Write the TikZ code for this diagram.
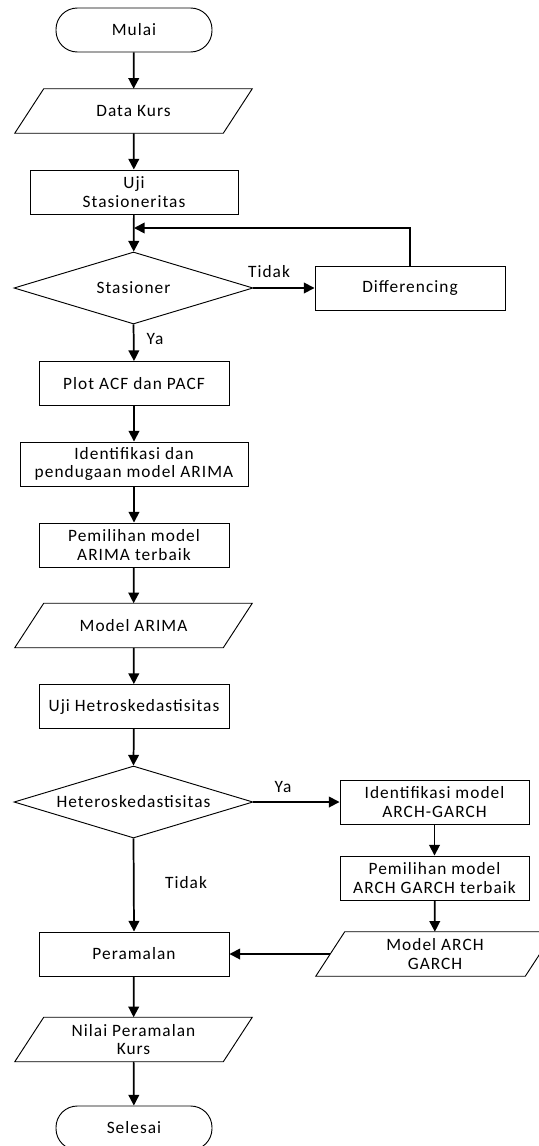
\documentclass[tikz,border=0pt]{standalone}
\usepackage{fontspec}
\setmainfont{Carlito}[LetterSpace=6.0]
\usetikzlibrary{arrows.meta,shapes.geometric}
\tikzset{
  boxline/.style={draw=black, line width=0.7pt},
  base/.style={font=\fontsize{13}{13.75}\selectfont, align=center, inner sep=0pt},
  proc/.style={base, boxline, rectangle, minimum height=33pt},
  term/.style={base, boxline, rectangle, rounded corners=16pt, minimum width=117pt, minimum height=33pt},
  io/.style={base, rectangle, minimum height=33pt},
  dec/.style={base, boxline, diamond, aspect=3.3, minimum width=179.25pt, minimum height=54pt},
  lbl/.style={font=\fontsize{13}{13.75}\selectfont, inner sep=0pt},
  arr/.style={line width=1.3pt, -{Triangle[length=8pt,width=8pt]}},
}
\begin{document}
\begin{tikzpicture}[x=0.75pt,y=-0.75pt]
\useasboundingbox (0,0) rectangle (539,1146);
\clip (0,0) rectangle (539,1146);
% main column
\node[term] (mulai) at (134,30) {Mulai};
\node[io, minimum width=156pt] (data) at (133.5,111) {Data Kurs};
\node[proc, minimum width=156pt] (ujis) at (134,192) {Uji\\Stasioneritas};
\node[dec] (stas) at (133.5,288) {Stasioner};
\node[proc, minimum width=142.5pt] (diff) at (410,288) {Differencing};
\node[proc, minimum width=142.5pt] (plot) at (134,383.5) {Plot ACF dan PACF};
\node[proc, minimum width=171pt] (iden) at (134,464) {Identifikasi dan\\pendugaan model ARIMA};
\node[proc, minimum width=142.5pt] (pemi) at (134,545) {Pemilihan model\\ARIMA terbaik};
\node[io, minimum width=156pt] (marima) at (133.5,625.5) {Model ARIMA};
\node[proc, minimum width=142.5pt] (ujih) at (134,706.5) {Uji Hetroskedastisitas};
\node[dec] (hete) at (133.5,802) {Heteroskedastisitas};
\node[proc, minimum width=141.75pt] (idarch) at (434.5,802) {Identifikasi model\\ARCH-GARCH};
\node[proc, minimum width=141.75pt] (pemarch) at (434.5,878) {Pemilihan model\\ARCH GARCH terbaik};
\node[io, minimum width=156.75pt] (march) at (435,954) {Model ARCH\\GARCH};
\node[proc, minimum width=142.5pt] (peram) at (134,954) {Peramalan};
\node[io, minimum width=156pt] (nilai) at (133.5,1039.5) {Nilai Peramalan\\Kurs};
\node[term] (seles) at (134,1128) {Selesai};
% parallelogram outlines
\foreach \n in {data,marima,march,nilai}{
  \draw[boxline] ([xshift=10.875pt]\n.north west) -- ([xshift=10.875pt]\n.north east)
    -- ([xshift=-10.875pt]\n.south east) -- ([xshift=-10.875pt]\n.south west) -- cycle;
}
% labels
\node[lbl] (tidak1) at (269,272) {Tidak};
\node[lbl] (ya1) at (155,339) {Ya};
\node[lbl] (ya2) at (283,787) {Ya};
\node[lbl] (tidak2) at (186,883) {Tidak};
% connectors
\coordinate (fb) at (134,228);
\draw[arr] (mulai) -- (data);
\draw[arr] (data) -- (ujis);
\draw[arr] (ujis) -- (stas);
\draw[arr] (stas.east) -- (diff.west);
\draw[arr] (diff.north) |- (fb);
\draw[arr] (stas.south) -- (plot.north);
\draw[arr] (plot) -- (iden);
\draw[arr] (iden) -- (pemi);
\draw[arr] (pemi) -- (marima);
\draw[arr] (marima) -- (ujih);
\draw[arr] (ujih) -- (hete.north);
\draw[arr] (hete.east) -- (idarch.west);
\draw[arr] (hete.south) -- (peram.north);
\draw[arr] (idarch) -- (pemarch);
\draw[arr] (pemarch) -- (march);
\draw[arr] (march.west) -- (peram.east);
\draw[arr] (peram) -- (nilai);
\draw[arr] (nilai) -- (seles);
\end{tikzpicture}
\end{document}
